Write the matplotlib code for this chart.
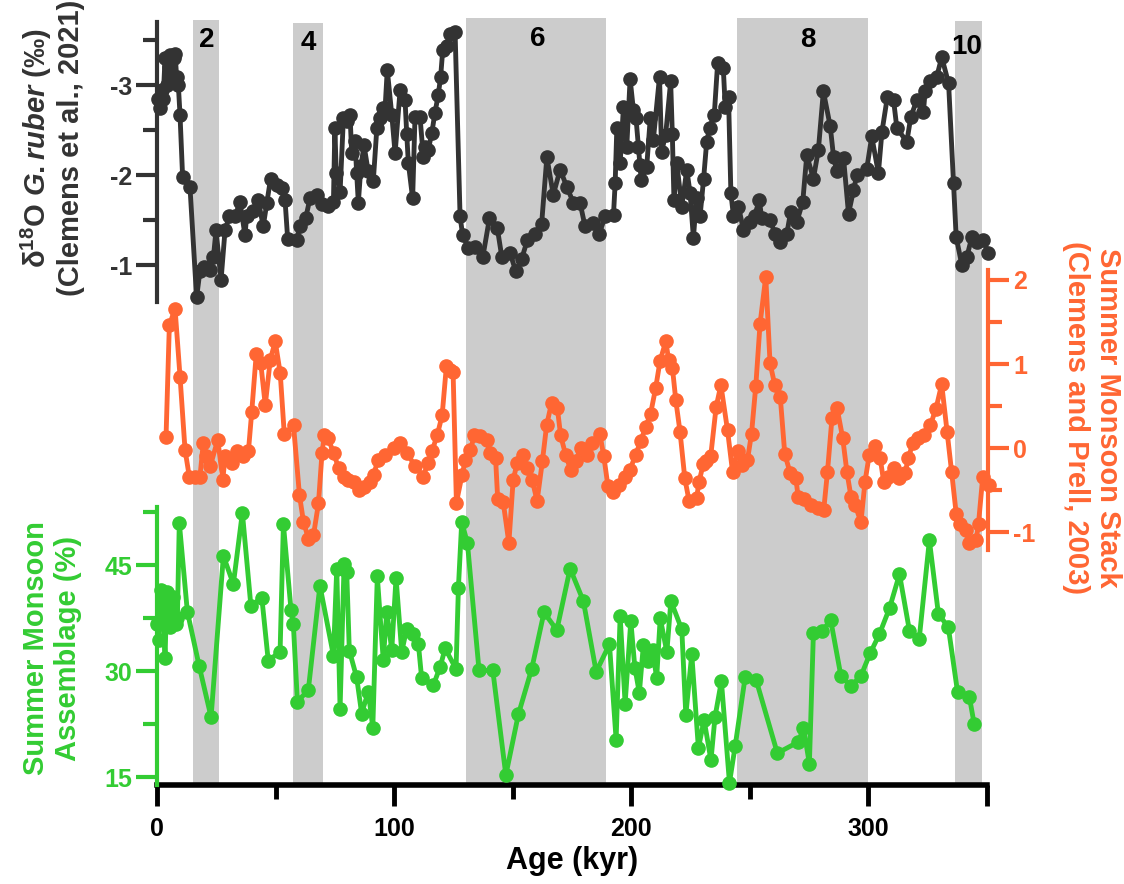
import numpy as np
import matplotlib.pyplot as plt
from matplotlib.ticker import FixedLocator

plt.rcParams['font.family'] = ['Liberation Sans', 'DejaVu Sans']
plt.rcParams['font.weight'] = 'bold'
plt.rcParams['axes.unicode_minus'] = False
plt.rcParams['mathtext.fontset'] = 'custom'
plt.rcParams['mathtext.rm'] = 'Liberation Sans:bold'
plt.rcParams['mathtext.it'] = 'Liberation Sans:italic:bold'
plt.rcParams['mathtext.bf'] = 'Liberation Sans:bold'

# d18O G. ruber (Clemens et al., 2021)
d18o_age = [0.5, 1.2, 2.0, 2.6, 3.4, 4.2, 5.0, 5.5, 6.3, 7.0, 7.6, 8.3, 9.0, 9.7, 10.8, 13.9,
            16.7, 18.1, 20.0, 22.4, 23.8, 24.9, 27.0, 28.7, 30.5, 33.0, 35.0, 37.1, 37.8, 40.5,
            42.7, 44.8, 46.3, 47.9, 50.5, 52.6, 54.0, 55.1, 58.9, 60.3, 62.7, 64.5, 67.4, 69.5,
            72.0, 74.4, 75.0, 75.6, 77.2, 78.6, 80.0, 81.4, 82.1, 83.5, 84.2, 84.9, 86.0, 87.3,
            89.0, 91.2, 92.7, 94.0, 95.4, 96.2, 97.1, 99.0, 100.4, 102.5, 104.6, 105.3, 106.0,
            107.8, 108.8, 110.9, 112.3, 113.0, 114.4, 115.9, 117.2, 118.6, 119.6, 120.5, 122.2,
            123.6, 125.7, 127.8, 128.9, 131.3, 134.1, 137.4, 140.2, 143.5, 145.4, 148.9, 151.3,
            153.8, 156.2, 159.4, 162.2, 164.4, 167.1, 170.0, 172.8, 175.6, 178.4, 180.5, 184.0,
            186.5, 189.0, 192.5, 193.2, 193.9, 195.3, 196.7, 198.1, 199.5, 200.9, 202.0, 203.0,
            203.6, 204.2, 206.5, 208.0, 209.3, 211.9, 212.8, 214.5, 216.6, 217.3, 218.0, 219.2,
            221.3, 223.4, 224.8, 226.2, 227.5, 229.0, 230.5, 231.8, 233.0, 235.0, 236.4, 238.8,
            239.6, 241.0, 242.0, 243.1, 245.2, 247.3, 250.1, 252.0, 254.0, 255.0, 258.5, 260.6,
            262.8, 265.6, 267.2, 269.8, 272.3, 274.0, 276.8, 278.9, 281.0, 283.9, 285.3, 286.7,
            289.5, 291.6, 293.7, 295.1, 299.3, 301.4, 304.2, 305.7, 308.0, 310.6, 312.0, 316.2,
            317.9, 320.4, 323.2, 323.9, 326.0, 328.8, 330.9, 333.8, 335.9, 337.0, 339.4, 341.5,
            343.6, 345.7, 348.5, 350.5]
d18o_val = [-2.85, -2.75, -2.95, -2.85, -3.30, -3.00, -3.20, -3.33, -3.10, -3.30, -3.35, -3.09,
            -3.00, -2.67, -1.98, -1.87, -0.64, -0.93, -0.98, -0.94, -1.09, -1.39, -0.83, -1.39,
            -1.54, -1.55, -1.70, -1.33, -1.54, -1.60, -1.72, -1.43, -1.69, -1.96, -1.89, -1.86,
            -1.72, -1.29, -1.28, -1.43, -1.52, -1.74, -1.78, -1.68, -1.66, -1.70, -2.52, -2.02,
            -1.81, -2.63, -2.60, -2.67, -2.24, -2.38, -2.02, -1.69, -2.10, -2.33, -2.05, -1.93,
            -2.52, -2.63, -2.74, -2.75, -3.17, -2.67, -2.24, -2.94, -2.83, -2.46, -2.13, -1.74,
            -2.65, -2.65, -2.20, -2.31, -2.28, -2.47, -2.69, -2.89, -3.09, -3.39, -3.43, -3.57,
            -3.59, -1.54, -1.33, -1.19, -1.20, -1.09, -1.52, -1.41, -1.09, -1.13, -0.93, -1.07,
            -1.28, -1.35, -1.46, -2.20, -1.78, -2.06, -1.87, -1.69, -1.69, -1.43, -1.47, -1.35,
            -1.54, -1.56, -1.91, -2.52, -2.13, -2.76, -2.31, -3.07, -2.72, -2.63, -2.31, -2.11,
            -1.94, -2.09, -2.63, -2.39, -3.09, -2.26, -2.45, -3.04, -2.46, -1.72, -2.13, -1.65,
            -2.06, -1.80, -1.30, -1.75, -1.54, -1.96, -2.37, -2.52, -2.67, -3.24, -3.19, -2.76,
            -2.87, -1.80, -1.54, -1.65, -1.39, -1.48, -1.55, -1.72, -1.52, -1.50, -1.35, -1.26,
            -1.35, -1.59, -1.48, -1.70, -2.22, -1.96, -2.28, -2.93, -2.54, -2.20, -2.04, -2.19,
            -1.57, -1.83, -2.00, -2.07, -2.43, -2.02, -2.48, -2.87, -2.83, -2.52, -2.37, -2.65,
            -2.83, -2.70, -2.93, -3.04, -3.09, -3.31, -3.02, -1.91, -1.31, -1.00, -1.09, -1.31,
            -1.26, -1.28, -1.13]

# Summer Monsoon Stack (Clemens and Prell, 2003)
stack_age = [3.8, 5.2, 7.6, 9.7, 11.8, 13.6, 16.0, 18.1, 19.5, 20.8, 22.4, 25.6, 27.7, 28.7,
             31.5, 33.6, 36.4, 38.5, 39.9, 41.8, 43.7, 45.6, 47.7, 49.8, 51.9, 53.6, 57.5, 60.0,
             61.7, 63.8, 65.9, 68.0, 69.5, 70.5, 72.0, 74.4, 76.5, 78.6, 80.5, 82.8, 84.9, 87.0,
             89.8, 91.2, 93.1, 96.2, 99.7, 102.2, 105.3, 108.8, 112.2, 114.0, 115.9, 118.0,
             120.1, 121.9, 123.5, 124.7, 126.1, 128.5, 129.9, 132.0, 133.7, 136.2, 138.8, 140.4,
             142.6, 143.5, 145.8, 148.2, 150.0, 151.7, 154.1, 156.0, 158.0, 160.1, 162.3, 164.1,
             166.2, 168.6, 170.0, 172.1, 174.2, 176.3, 178.4, 180.9, 183.3, 186.5, 188.2, 189.9,
             192.2, 194.6, 197.0, 199.2, 201.6, 203.7, 205.8, 207.9, 210.0, 211.9, 214.3, 215.5,
             217.1, 218.5, 220.3, 222.3, 224.1, 227.3, 228.3, 230.1, 231.1, 233.2, 235.5, 237.5,
             240.3, 242.4, 244.5, 246.6, 248.7, 250.4, 252.2, 254.0, 256.4, 258.2, 260.2, 262.5,
             264.4, 266.7, 269.1, 270.0, 272.6, 275.4, 278.2, 280.8, 282.4, 284.3, 286.4, 288.8,
             290.6, 292.3, 294.0, 296.5, 298.2, 300.0, 302.4, 304.6, 306.1, 308.0, 310.3, 312.7,
             315.0, 316.5, 318.3, 320.4, 323.2, 325.7, 328.1, 330.5, 332.8, 334.7, 336.6, 338.4,
             340.8, 342.2, 345.0, 346.0, 347.8, 350.5]
stack_val = [0.13, 1.46, 1.66, 0.85, -0.02, -0.34, -0.34, -0.34, 0.06, -0.10, -0.22, 0.10, -0.38,
             -0.10, -0.18, -0.04, -0.10, -0.04, 0.43, 1.12, 1.01, 0.51, 1.05, 1.27, 0.89, 0.17,
             0.27, -0.56, -0.88, -1.08, -1.04, -0.66, -0.06, 0.15, 0.12, -0.06, -0.24, -0.34,
             -0.38, -0.40, -0.50, -0.46, -0.40, -0.32, -0.14, -0.08, 0.00, 0.06, -0.06, -0.22,
             -0.34, -0.18, -0.03, 0.15, 0.39, 0.98, 0.93, 0.91, -0.65, -0.32, -0.14, -0.02, 0.15,
             0.14, 0.10, -0.06, -0.12, -0.61, -0.64, -1.13, -0.38, -0.18, -0.08, -0.24, -0.38,
             -0.63, -0.16, 0.27, 0.54, 0.48, 0.15, -0.08, -0.26, -0.16, 0.00, -0.08, 0.06, 0.17,
             -0.10, -0.45, -0.52, -0.44, -0.34, -0.26, -0.08, 0.08, 0.25, 0.41, 0.71, 1.04, 1.27,
             1.05, 0.95, 0.57, 0.19, -0.36, -0.63, -0.59, -0.40, -0.19, -0.16, -0.10, 0.49, 0.75,
             0.21, -0.28, -0.04, -0.20, -0.14, 0.17, 0.74, 1.48, 2.04, 1.01, 0.75, 0.61, -0.07,
             -0.30, -0.36, -0.58, -0.61, -0.68, -0.72, -0.74, -0.28, 0.36, 0.48, 0.12, -0.29,
             -0.58, -0.68, -0.88, -0.40, -0.08, 0.02, -0.12, -0.41, -0.34, -0.24, -0.36, -0.30,
             -0.12, 0.06, 0.12, 0.15, 0.27, 0.47, 0.76, 0.19, -0.29, -0.78, -0.90, -0.98, -1.13,
             -1.10, -0.90, -0.34, -0.44]

# Summer Monsoon Assemblage (%)
assem_age = [0.0, 0.7, 1.5, 2.4, 3.4, 4.1, 5.5, 6.9, 8.0, 8.6, 9.4, 12.8, 17.8, 22.8, 28.0,
             32.2, 36.0, 39.6, 44.2, 46.9, 51.9, 53.3, 56.5, 57.5, 59.2, 63.8, 68.7, 74.4, 75.8,
             77.2, 78.9, 80.0, 81.1, 84.2, 86.3, 89.1, 91.0, 92.9, 95.4, 96.9, 99.0, 100.8,
             103.2, 105.3, 108.1, 110.2, 111.6, 116.5, 119.4, 121.5, 126.1, 127.1, 128.5, 130.9,
             135.8, 141.6, 147.1, 152.4, 158.0, 163.2, 168.6, 174.2, 179.8, 185.2, 190.8, 193.6,
             195.3, 197.4, 199.8, 201.5, 203.4, 205.1, 207.0, 209.0, 210.7, 212.2, 215.0, 216.7,
             221.3, 223.0, 225.5, 228.3, 230.7, 233.6, 235.3, 238.0, 241.4, 243.8, 248.0, 252.6,
             261.6, 270.5, 272.6, 275.1, 276.8, 280.3, 284.1, 288.4, 292.6, 296.8, 300.7, 304.6,
             308.9, 313.1, 317.3, 321.4, 325.7, 329.5, 333.7, 337.6, 342.6, 344.6]
assem_val = [36.7, 34.4, 41.5, 39.5, 31.8, 41.2, 36.3, 40.5, 36.6, 37.5, 51.0, 38.4, 30.7, 23.5,
             46.3, 42.3, 52.4, 39.2, 40.4, 31.5, 32.7, 50.8, 38.7, 36.6, 25.7, 27.3, 42.1, 32.2,
             44.5, 24.7, 45.2, 44.0, 32.9, 29.1, 24.0, 27.1, 22.0, 43.4, 31.6, 38.4, 33.0, 43.2,
             32.7, 36.0, 35.3, 33.9, 29.0, 28.0, 30.6, 33.2, 30.3, 41.8, 51.1, 48.1, 30.1, 30.1,
             15.3, 23.9, 30.3, 38.3, 35.8, 44.5, 39.9, 29.9, 33.8, 20.3, 37.8, 25.4, 37.1, 30.5,
             26.9, 33.7, 31.5, 33.0, 29.0, 37.5, 32.7, 39.9, 35.9, 23.8, 32.4, 19.1, 23.1, 17.4,
             23.5, 28.6, 14.2, 19.4, 29.1, 28.8, 18.4, 20.0, 22.0, 16.9, 35.4, 35.6, 37.2, 29.3,
             27.9, 29.3, 32.5, 35.2, 38.9, 43.7, 35.7, 34.5, 48.5, 38.1, 36.2, 27.0, 26.3, 22.5]

# glacial stages shaded
mis_labels = ['2', '4', '6', '8', '10']
mis_start = [15.2, 57.5, 130.1, 244.6, 336.5]
mis_end = [26.0, 69.9, 189.5, 299.9, 347.9]
mis_top = [0.996, 0.992, 0.999, 0.999, 0.995]
mis_text_x = [21.1, 63.6, 160.7, 274.6, 341.6]
mis_text_y = [0.970, 0.966, 0.971, 0.970, 0.961]

BLACK = '#333333'
ORANGE = '#FF6633'
GREEN = '#33CC33'

W, H = 1124, 884
fig = plt.figure(figsize=(W / 100, H / 100), dpi=100)


def box(x0, y0, x1, y1):
    # pixel box (top-left origin) -> figure fraction rect
    return [x0 / W, 1 - y1 / H, (x1 - x0) / W, (y1 - y0) / H]


def style_axis(ax, side, color):
    ax.patch.set_alpha(0)
    for s in ['top', 'bottom', 'left', 'right']:
        ax.spines[s].set_visible(s == side)
    ax.spines[side].set_color(color)
    ax.spines[side].set_linewidth(3)
    ax.xaxis.set_visible(False)
    ax.yaxis.set_ticks_position(side)
    ax.tick_params(axis='y', which='major', direction='out', length=15, width=3,
                   color=color, labelcolor=color, labelsize=18, pad=3)
    ax.tick_params(axis='y', which='minor', direction='out', length=10, width=3, color=color)
    for lab in ax.get_yticklabels():
        lab.set_fontweight('bold')


# base axis: age scale and shaded stages
ax = fig.add_axes(box(157, 17, 987, 785))
ax.set_xlim(0, 350)
ax.set_ylim(0, 1)
ax.patch.set_alpha(0)
for s in ['top', 'left', 'right']:
    ax.spines[s].set_visible(False)
ax.spines['bottom'].set_linewidth(4)
ax.spines['bottom'].set_color('black')
ax.set_yticks([])
ax.set_xticks([0, 100, 200, 300, 350])
ax.set_xticklabels(['0', '100', '200', '300', ''])
ax.xaxis.set_minor_locator(FixedLocator([50, 150, 250]))
ax.tick_params(axis='x', which='major', length=15, width=3.5, labelsize=18, pad=8)
ax.tick_params(axis='x', which='minor', length=10, width=3.5)
ax.set_xlabel('Age (kyr)', fontsize=22, fontweight='bold', labelpad=4)
for a, b, t in zip(mis_start, mis_end, mis_top):
    ax.axvspan(a, b, ymin=0, ymax=t, color='#CCCCCC', lw=0, zorder=0)
for lab, x, y in zip(mis_labels, mis_text_x, mis_text_y):
    ax.text(x, y, lab, ha='center', va='center', fontsize=20, fontweight='bold')

line_kw = dict(lw=3.5, marker='o', ms=9.5, clip_on=False)

# summer monsoon stack (right axis)
ax_o = fig.add_axes(box(157, 270, 988, 550))
ax_o.set_xlim(0, 350)
ax_o.set_ylim(-1.214, 2.119)
ax_o.plot(stack_age, stack_val, color=ORANGE, **line_kw)
ax_o.set_yticks([-1, 0, 1, 2])
ax_o.yaxis.set_minor_locator(FixedLocator([-0.5, 0.5, 1.5]))
style_axis(ax_o, 'right', ORANGE)

# assemblage (lower left axis)
ax_g = fig.add_axes(box(157, 507, 987, 785))
ax_g.set_xlim(0, 350)
ax_g.set_ylim(13.9, 53.2)
ax_g.plot(assem_age, assem_val, color=GREEN, **line_kw)
ax_g.set_yticks([15, 30, 45])
ax_g.yaxis.set_minor_locator(FixedLocator([22.5, 37.5, 52.5]))
style_axis(ax_g, 'left', GREEN)

# d18O (upper left axis, inverted)
ax_k = fig.add_axes(box(157, 22, 987, 302))
ax_k.set_xlim(0, 350)
ax_k.set_ylim(-0.589, -3.70)
ax_k.plot(d18o_age, d18o_val, color=BLACK, **line_kw)
ax_k.set_yticks([-3, -2, -1])
ax_k.yaxis.set_minor_locator(FixedLocator([-3.5, -2.5, -1.5]))
style_axis(ax_k, 'left', BLACK)

# axis titles
fig.text(52 / W, 1 - 148 / H,
         'δ$^{18}$O $\\mathit{G. ruber}$ (‰)\n(Clemens et al., 2021)',
         rotation=90, ha='center', va='center', ma='center',
         fontsize=21, fontweight='bold', color=BLACK, linespacing=1.15)
fig.text(52 / W, 1 - 648 / H, 'Summer Monsoon\nAssemblage (%)',
         rotation=90, ha='center', va='center', ma='center',
         fontsize=21, fontweight='bold', color=GREEN, linespacing=1.15)
fig.text(1092 / W, 1 - 418 / H, 'Summer Monsoon Stack\n(Clemens and Prell, 2003)',
         rotation=270, ha='center', va='center', ma='center',
         fontsize=21, fontweight='bold', color=ORANGE, linespacing=1.15)

fig.savefig('out.png', dpi=100)
